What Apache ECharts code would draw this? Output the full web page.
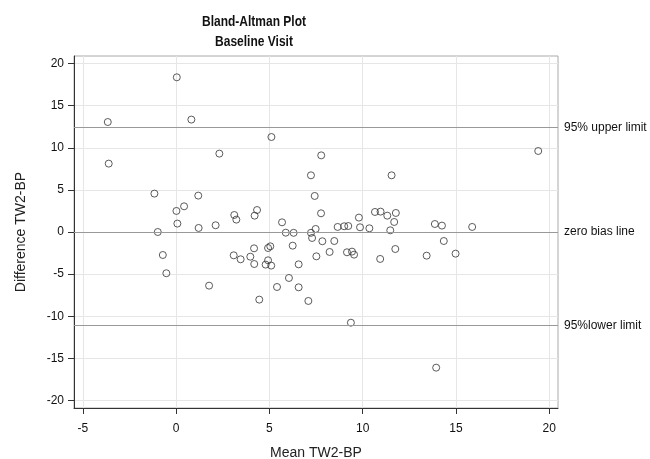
<!DOCTYPE html>
<html>
<head>
<meta charset="utf-8">
<script src="https://cdn.jsdelivr.net/npm/echarts@6/dist/echarts.min.js"></script>
<style>html,body{margin:0;padding:0;background:#fff}#c{width:650px;height:459px}</style>
</head>
<body>
<div id="c"></div>
<script>
var meanValues = [-3.66,-3.61,0.04,0.82,5.11,2.32,-1.16,-0.98,1.19,0.43,0.02,0.07,1.21,2.12,3.12,3.23,4.21,4.34,5.68,5.88,6.3,7.23,7.43,7.23,7.48,7.29,7.78,7.77,19.41,11.55,10.66,10.96,11.32,11.78,11.69,9.8,8.66,9.01,9.23,9.86,10.36,11.48,13.87,14.25,15.87,-0.71,-0.52,1.77,3.09,3.46,3.98,4.18,4.19,4.46,4.93,5.05,4.93,4.8,5.1,5.41,6.25,6.57,6.05,6.57,7.09,7.52,7.84,8.48,8.23,9.16,9.43,9.54,9.37,10.94,11.75,13.43,14.35,14.98,13.94];
var diffValues = [13.06,8.12,18.37,13.35,11.28,9.31,4.56,0.0,4.32,3.05,2.5,1.0,0.48,0.8,2.02,1.47,1.94,2.61,1.15,-0.08,-0.1,6.73,4.28,-0.1,0.36,-0.71,9.1,2.22,9.62,6.73,2.38,2.42,1.94,2.26,1.19,1.71,0.6,0.68,0.71,0.56,0.44,0.2,0.95,0.76,0.6,-2.73,-4.9,-6.37,-2.77,-3.24,-2.93,-1.94,-3.8,-8.03,-1.9,-1.7,-3.36,-3.87,-3.99,-6.53,-1.62,-3.84,-5.46,-6.57,-8.19,-2.89,-1.1,-1.07,-2.37,-2.41,-2.33,-2.69,-10.77,-3.2,-2.02,-2.81,-1.07,-2.57,-16.11];
var refValues = [12.43, 0, -11.12];
var refLabels = ['95% upper limit', 'zero bias line', '95%lower limit'];
var xTicks = [-5, 0, 5, 10, 15, 20];
var yTicks = [-20, -15, -10, -5, 0, 5, 10, 15, 20];
var titleLines = ['Bland-Altman Plot', 'Baseline Visit'];

var points = meanValues.map(function (m, i) { return [m, diffValues[i]]; });
var refLines = refValues.map(function (v, i) { return { yAxis: v, label: { formatter: refLabels[i] } }; });

var chart = echarts.init(document.getElementById('c'), null, { renderer: 'canvas' });
var font = 'Arial, "Liberation Sans", sans-serif';
chart.setOption({
  animation: false,
  backgroundColor: '#fff',
  graphic: titleLines.map(function (t, i) {
    return {
      type: 'text', x: 254, y: 22 + i * 20, scaleX: 0.8, scaleY: 1,
      style: { text: t, font: 'bold 15px ' + font, fill: '#111', align: 'center', verticalAlign: 'middle' }
    };
  }),
  grid: { left: 74, right: 92, top: 56, bottom: 51, show: true, borderColor: '#aaa', borderWidth: 1, outerBoundsMode: 'none', containLabel: false },
  xAxis: {
    type: 'value', min: -5.47, max: 20.47,
    name: 'Mean TW2-BP', nameLocation: 'middle', nameGap: 38,
    nameTextStyle: { fontFamily: font, fontSize: 14, color: '#222' },
    axisLine: { show: true, onZero: false, lineStyle: { color: '#333', width: 1 } },
    axisTick: { show: true, length: 6, customValues: xTicks, lineStyle: { color: '#333' } },
    axisLabel: { customValues: xTicks, fontFamily: font, fontSize: 12, color: '#111', margin: 15 },
    splitLine: { show: true, lineStyle: { color: '#e6e6e6', width: 1 } }
  },
  yAxis: {
    type: 'value', min: -20.9, max: 20.9,
    name: 'Difference TW2-BP', nameLocation: 'middle', nameGap: 46,
    nameTextStyle: { fontFamily: font, fontSize: 14, color: '#222' },
    axisLine: { show: true, onZero: false, lineStyle: { color: '#333', width: 1 } },
    axisTick: { show: true, length: 6, customValues: yTicks, lineStyle: { color: '#333' } },
    axisLabel: { customValues: yTicks, fontFamily: font, fontSize: 12, color: '#111', margin: 10 },
    splitLine: { show: true, lineStyle: { color: '#e6e6e6', width: 1 } }
  },
  series: [{
    type: 'scatter',
    data: points,
    symbol: 'circle',
    symbolSize: 7,
    itemStyle: { color: 'rgba(255,255,255,0)', borderColor: '#333', borderWidth: 1 },
    markLine: {
      silent: true,
      symbol: ['none', 'none'],
      lineStyle: { color: '#999', type: 'solid', width: 1 },
      label: { show: true, position: 'end', distance: 6, fontFamily: font, fontSize: 12, color: '#111' },
      data: refLines
    }
  }]
});
</script>
</body>
</html>
